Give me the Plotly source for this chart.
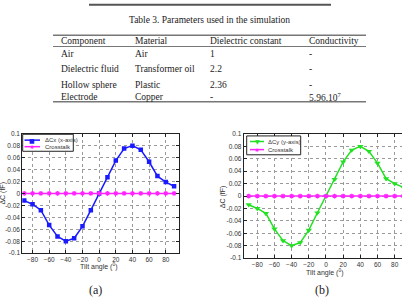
import plotly.graph_objects as go

W, H = 402, 308
def X(px): return px / W
def Y(py): return 1 - py / H

# ---------------- data ----------------
tilt = [-90, -80, -70, -60, -50, -40, -30, -20, -10, 0, 10, 20, 30, 40, 50, 60, 70, 80, 90]
dcx = [-0.012, -0.018, -0.028, -0.053, -0.072, -0.080, -0.075, -0.055, -0.028, 0.0,
       0.027, 0.055, 0.075, 0.080, 0.073, 0.053, 0.029, 0.019, 0.012]
dcy = [-0.014, -0.020, -0.028, -0.053, -0.072, -0.080, -0.075, -0.055, -0.027, 0.0,
       0.027, 0.055, 0.074, 0.080, 0.072, 0.053, 0.028, 0.020, 0.014]
crosstalk = [0.0] * len(tilt)

table_title = "Table 3. Parameters used in the simulation"
table_header = ["Component", "Material", "Dielectric constant", "Conductivity"]
table_rows = [
    ["Air", "Air", "1", "-"],
    ["Dielectric fluid", "Transformer oil", "2.2", "-"],
    ["Hollow sphere", "Plastic", "2.36", "-"],
    ["Electrode", "Copper", "-", "5.96.10<sup>7</sup>"],
]
legend_a = ["ΔCx (x-axis)", "Crosstalk"]
legend_b = ["ΔCy (y-axis)", "Crosstalk"]
x_ticks = [-80, -60, -40, -20, 0, 20, 40, 60, 80]
y_ticks = [-0.1, -0.08, -0.06, -0.04, -0.02, 0, 0.02, 0.04, 0.06, 0.08, 0.1]
y_ticktext = ["-0.1", "-0.08", "-0.06", "-0.04", "-0.02", "0", "0.02", "0.04", "0.06", "0.08", "0.1"]

BLUE = "#1a1aff"
GREEN = "#22e022"
MAG = "#ff22ff"

fig = go.Figure()

# left chart
fig.add_trace(go.Scatter(x=tilt, y=dcx, mode="lines+markers", name=legend_a[0],
                         line=dict(color=BLUE, width=1.5),
                         marker=dict(symbol="square", size=4.5, color=BLUE),
                         xaxis="x", yaxis="y"))
fig.add_trace(go.Scatter(x=tilt, y=crosstalk, mode="lines+markers", name=legend_a[1],
                         line=dict(color=MAG, width=1.5),
                         marker=dict(symbol="asterisk-open", size=4, line=dict(color=MAG, width=1.2)),
                         xaxis="x", yaxis="y"))
# right chart
fig.add_trace(go.Scatter(x=tilt, y=dcy, mode="lines+markers", name=legend_b[0],
                         line=dict(color=GREEN, width=1.5),
                         marker=dict(symbol="triangle-down", size=5.5, color=GREEN),
                         xaxis="x2", yaxis="y2"))
fig.add_trace(go.Scatter(x=tilt, y=crosstalk, mode="lines+markers", name=legend_b[1],
                         line=dict(color=MAG, width=1.5),
                         marker=dict(symbol="asterisk-open", size=4, line=dict(color=MAG, width=1.2)),
                         xaxis="x2", yaxis="y2"))

tickfont = dict(family="Liberation Sans, Arial", size=6.5, color="#333")
axcommon = dict(showline=True, linecolor="#222", linewidth=1, ticks="inside", ticklen=3,
                tickcolor="#222", showgrid=True, gridcolor="#9a9a9a", griddash="dot",
                gridwidth=0.8, zeroline=False, tickfont=tickfont)

fig.update_layout(
    width=W, height=H, margin=dict(l=0, r=0, t=0, b=0),
    paper_bgcolor="white", plot_bgcolor="white", showlegend=False,
    xaxis=dict(domain=[X(22.3), X(179)], range=[-92.3, 95.9], tickvals=x_ticks,
               mirror="ticks", anchor="y", **axcommon),
    yaxis=dict(domain=[Y(255), Y(132.7)], range=[-0.1, 0.1], tickvals=y_ticks,
               ticktext=y_ticktext, mirror="ticks", anchor="x", **axcommon),
    xaxis2=dict(domain=[X(243.7), 1], range=[-95.8, 88.5], tickvals=x_ticks,
                mirror="ticks", anchor="y2", **axcommon),
    yaxis2=dict(domain=[Y(260), Y(133)], range=[-0.1, 0.1], tickvals=y_ticks,
                ticktext=y_ticktext, mirror=False, anchor="x2", **axcommon),
)

ann = []
shapes = []
serif = "Liberation Serif, Times New Roman"
sans = "Liberation Sans, Arial"

def text(px, py, t, size, family, anchor="left", angle=0, color="#222"):
    ann.append(dict(xref="paper", yref="paper", x=X(px), y=Y(py), text=t, showarrow=False,
                    xanchor=anchor, yanchor="middle", textangle=angle,
                    font=dict(family=family, size=size, color=color)))

def hline(x0, x1, py, color, width):
    shapes.append(dict(type="line", xref="paper", yref="paper", x0=X(x0), x1=X(x1),
                       y0=Y(py), y1=Y(py), line=dict(color=color, width=width)))

# table
text(210, 16, table_title, 9.5, serif, "center")
col_x = [59, 133, 208, 307]
row_y = [51, 67, 83, 95]
for j, h in enumerate(table_header):
    text(col_x[j], 38, h, 9.5, serif)
for i, row in enumerate(table_rows):
    for j, cell in enumerate(row):
        text(col_x[j], row_y[i], cell, 9.5, serif)
hline(89, 331, 0.8, "#555", 2)
hline(53, 366, 32, "#777", 1.5)
hline(53, 366, 43.5, "#777", 1)
hline(53, 366, 100, "#777", 1.5)

# axis titles
text(99, 269, "Tilt angle (<sup>0</sup>)", 7, sans, "center", color="#333")
text(325, 275, "Tilt angle (<sup>0</sup>)", 7, sans, "center", color="#333")
text(3, 194, "ΔC (fF)", 7, sans, "center", -90, "#333")
text(222.7, 197, "ΔC (fF)", 7, sans, "center", -90, "#333")
# captions
text(95, 293, "(a)", 12, serif, "center")
text(322, 293, "(b)", 12, serif, "center")

# manual legends (compact, MATLAB-like)
def legend_box(bx0, bx1, by0, by1, rows, lx0, lx1, tx, entries):
    shapes.append(dict(type="rect", xref="paper", yref="paper", x0=X(bx0), x1=X(bx1),
                       y0=Y(by1), y1=Y(by0), line=dict(color="#222", width=1),
                       fillcolor="white", layer="above"))
    for ry, (label, color, glyph, gsize) in zip(rows, entries):
        shapes.append(dict(type="line", xref="paper", yref="paper", x0=X(lx0), x1=X(lx1),
                           y0=Y(ry), y1=Y(ry), line=dict(color=color, width=1.5), layer="above"))
        ann.append(dict(xref="paper", yref="paper", x=X((lx0 + lx1) / 2), y=Y(ry), text=glyph,
                        showarrow=False, xanchor="center", yanchor="middle",
                        font=dict(family="DejaVu Sans", size=gsize, color=color)))
        text(tx, ry, label, 6, sans, color="#333")

legend_box(22.7, 73.3, 133.3, 150.7, [139.3, 146], 24.5, 40, 42.5,
           [(legend_a[0], BLUE, "■", 6), (legend_a[1], MAG, "✱", 5)])
legend_box(246.7, 300.7, 135, 154.3, [140.7, 149], 250, 264, 266,
           [(legend_b[0], GREEN, "▼", 6), (legend_b[1], MAG, "✱", 5)])

fig.update_layout(annotations=ann, shapes=shapes)
fig.write_html("out.html")
